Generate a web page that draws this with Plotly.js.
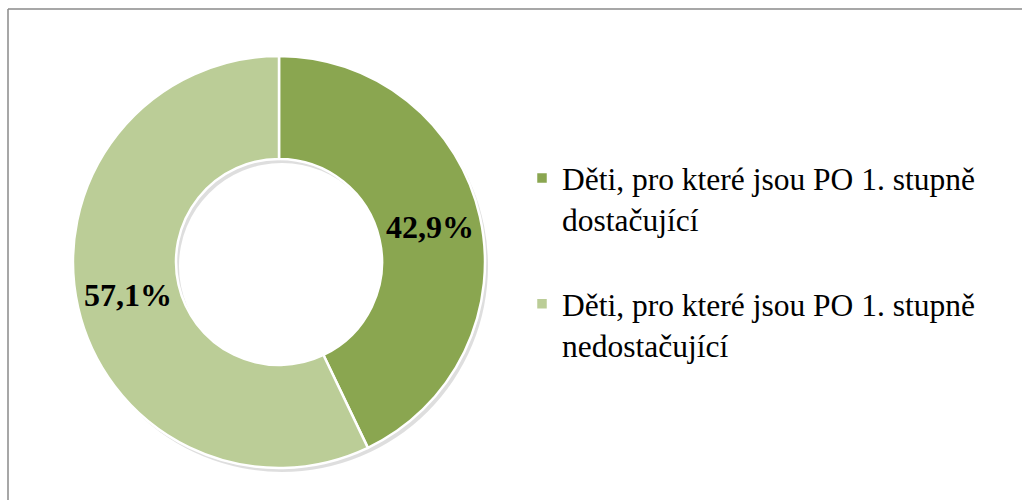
<!DOCTYPE html>
<html>
<head>
<meta charset="utf-8">
<script src="https://cdn.plot.ly/plotly-3.0.1.min.js"></script>
<style>html,body{margin:0;padding:0;background:#fff;}#chart{width:1022px;height:500px;}</style>
</head>
<body>
<div id="chart"></div>
<script>
const labels = [
  "Děti, pro které jsou PO 1. stupně<br>dostačující<br> ",
  "Děti, pro které jsou PO 1. stupně<br>nedostačující"
];
const values = [42.9, 57.1];
const colors = ["#8aa650", "#bbcd97"];

const W = 1022, H = 500;
const px = v => v / W, py = v => 1 - v / H;
const dom = {x: [px(72), px(486)], y: [py(468), py(56)]};
const HOLE = 0.5;
const dx = 3, dy = 4;
const SERIF = "Liberation Serif";

const shadow = {
  type: "pie",
  values: [1],
  labels: ["shadow"],
  marker: {colors: ["rgba(0,0,0,0.13)"], line: {width: 0}},
  hole: HOLE,
  sort: false,
  textinfo: "none",
  hoverinfo: "skip",
  showlegend: false,
  domain: {x: [dom.x[0] + px(dx), dom.x[1] + px(dx)], y: [dom.y[0] - dy / H, dom.y[1] - dy / H]}
};

const main = {
  type: "pie",
  values: values,
  labels: labels,
  marker: {colors: colors, line: {color: "#ffffff", width: 2.5}},
  hole: HOLE,
  sort: false,
  direction: "clockwise",
  rotation: 0,
  textinfo: "none",
  hoverinfo: "label+percent",
  domain: dom
};

// percentage labels placed at mid-ring of each slice, derived from the values
const total = values.reduce((a, b) => a + b, 0);
const wPx = (dom.x[1] - dom.x[0]) * W, hPx = (dom.y[1] - dom.y[0]) * H;
const R = Math.min(wPx, hPx) / 2;
const rMid = R * (1 + HOLE) / 2;
const cx = (dom.x[0] + dom.x[1]) / 2, cy = (dom.y[0] + dom.y[1]) / 2;
let cum = 0;
const annotations = values.map(v => {
  const frac = (cum + v / 2) / total;
  cum += v;
  const ang = Math.PI / 2 - 2 * Math.PI * frac;
  const pct = (v / total * 100).toFixed(1).replace(".", ",") + "%";
  return {
    xref: "paper", yref: "paper",
    x: cx + rMid * Math.cos(ang) / W,
    y: cy + rMid * Math.sin(ang) / H + 1 / H,
    text: "<b>" + pct + "</b>",
    showarrow: false,
    xanchor: "center", yanchor: "middle",
    font: {family: SERIF, size: 32, color: "#000000"}
  };
});

const layout = {
  width: W, height: H,
  margin: {l: 0, r: 0, t: 0, b: 0},
  paper_bgcolor: "#ffffff",
  separators: ", ",
  showlegend: true,
  legend: {
    x: px(522), y: py(151), xanchor: "left", yanchor: "top",
    valign: "top",
    font: {family: SERIF, size: 31.5, color: "#000000"},
    bgcolor: "rgba(0,0,0,0)",
    itemclick: false
  },
  annotations: annotations,
  shapes: [
    {type: "line", xref: "paper", yref: "paper", x0: px(8), x1: 1, y0: py(9), y1: py(9), line: {color: "#8a8a8a", width: 1.5}},
    {type: "line", xref: "paper", yref: "paper", x0: px(8), x1: px(8), y0: py(9), y1: 0, line: {color: "#8a8a8a", width: 1.5}}
  ]
};

Plotly.newPlot("chart", [shadow, main], layout, {displayModeBar: false, staticPlot: true});
</script>
</body>
</html>
